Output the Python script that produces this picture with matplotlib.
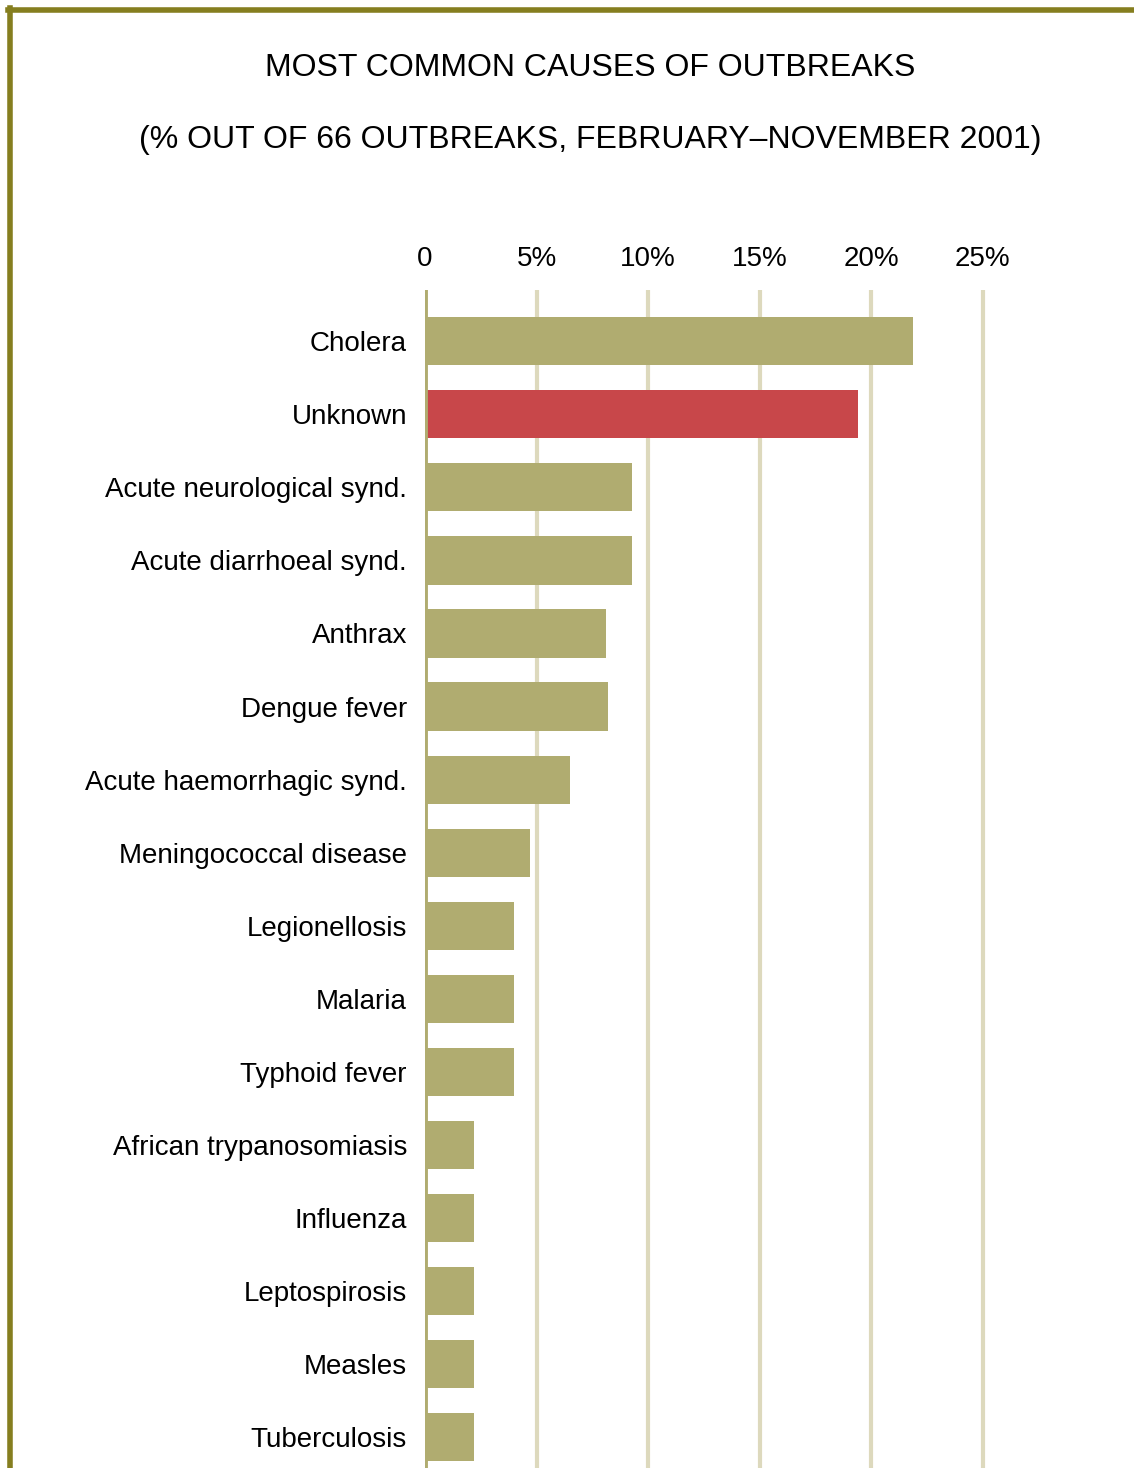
import numpy as np
import matplotlib
matplotlib.use('Agg')
import matplotlib.pyplot as plt
from matplotlib.lines import Line2D

plt.rcParams['font.family'] = ['Liberation Sans', 'DejaVu Sans']

# data
causes = ['Cholera', 'Unknown', 'Acute neurological synd.', 'Acute diarrhoeal synd.',
          'Anthrax', 'Dengue fever', 'Acute haemorrhagic synd.', 'Meningococcal disease',
          'Legionellosis', 'Malaria', 'Typhoid fever', 'African trypanosomiasis',
          'Influenza', 'Leptospirosis', 'Measles', 'Tuberculosis']
percent = [21.9, 19.4, 9.3, 9.3, 8.1, 8.2, 6.5, 4.7, 4.0, 4.0, 4.0, 2.2, 2.2, 2.2, 2.2, 2.2]
highlight = ['Unknown']
ticks = [0, 5, 10, 15, 20, 25]
tick_labels = ['0', '5%', '10%', '15%', '20%', '25%']

olive = '#b0ac70'
red = '#c8474a'
grid_col = '#ddd9bd'
border = '#857e1f'

W, H = 1134, 1468
fig = plt.figure(figsize=(W / 100, H / 100), dpi=100)

ax = fig.add_axes([425 / W, 0, 1 - 425 / W, 1 - 290 / H])
y = np.arange(len(causes))
colors = [red if c in highlight else olive for c in causes]
ax.barh(y, percent, height=0.66, color=colors, zorder=3)

for t in ticks[1:]:
    ax.axvline(t, color=grid_col, lw=3, zorder=1)
ax.axvline(0, color=olive, lw=3.5, zorder=4)

ax.set_xlim(0, (W - 425) / 22.3)
ax.set_ylim(len(causes) - 1 + 0.42, -0.70)
ax.set_yticks(y)
ax.set_yticklabels(causes, fontsize=20)
ax.set_xticks(ticks)
ax.set_xticklabels(tick_labels, fontsize=20)
ax.xaxis.tick_top()
ax.tick_params(axis='both', length=0)
ax.tick_params(axis='y', pad=13)
ax.tick_params(axis='x', pad=13)
for s in ax.spines.values():
    s.set_visible(False)

fig.text(590 / W, 1 - 68 / H, 'MOST COMMON CAUSES OF OUTBREAKS',
         ha='center', va='center', fontsize=23)
fig.text(590 / W, 1 - 140 / H, '(% OUT OF 66 OUTBREAKS, FEBRUARY\u2013NOVEMBER 2001)',
         ha='center', va='center', fontsize=23)

# olive frame on top and left
fig.add_artist(Line2D([8 / W, 1], [1 - 10 / H, 1 - 10 / H], color=border, lw=4))
fig.add_artist(Line2D([10 / W, 10 / W], [0, 1 - 8 / H], color=border, lw=4))

fig.savefig('out.png', dpi=100)
